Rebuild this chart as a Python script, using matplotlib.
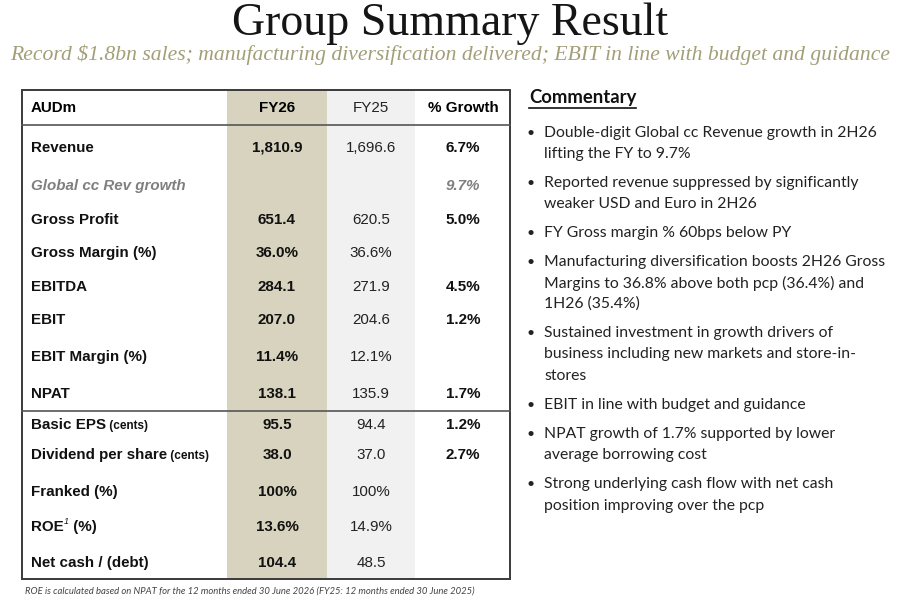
import matplotlib
matplotlib.use("Agg")
import matplotlib.pyplot as plt
from matplotlib.patches import Rectangle

title = "Group Summary Result"
subtitle = "Record $1.8bn sales; manufacturing diversification delivered; EBIT in line with budget and guidance"

headers = ["AUDm", "FY26", "FY25", "% Growth"]
row_labels = ["Revenue", "Global cc Rev growth", "Gross Profit", "Gross Margin (%)", "EBITDA", "EBIT",
              "EBIT Margin (%)", "NPAT", "Basic EPS", "Dividend per share", "Franked (%)", "ROE", "Net cash / (debt)"]
label_suffix = ["", "", "", "", "", "", "", "", " (cents)", " (cents)", "", "", ""]
fy26 = ["1,810.9", "", "651.4", "36.0%", "284.1", "207.0", "11.4%", "138.1", "95.5", "38.0", "100%", "13.6%", "104.4"]
fy25 = ["1,696.6", "", "620.5", "36.6%", "271.9", "204.6", "12.1%", "135.9", "94.4", "37.0", "100%", "14.9%", "48.5"]
growth = ["6.7%", "9.7%", "5.0%", "", "4.5%", "1.2%", "", "1.7%", "1.2%", "2.7%", "", "", ""]

commentary_title = "Commentary"
bullets = [
    ["Double-digit Global cc Revenue growth in 2H26", "lifting the FY to 9.7%"],
    ["Reported revenue suppressed by significantly", "weaker USD and Euro in 2H26"],
    ["FY Gross margin % 60bps below PY"],
    ["Manufacturing diversification boosts 2H26 Gross", "Margins to 36.8% above both pcp (36.4%) and", "1H26 (35.4%)"],
    ["Sustained investment in growth drivers of", "business including new markets and store-in-", "stores"],
    ["EBIT in line with budget and guidance"],
    ["NPAT growth of 1.7% supported by lower", "average borrowing cost"],
    ["Strong underlying cash flow with net cash", "position improving over the pcp"],
]
footnote = "ROE is calculated based on NPAT for the 12 months ended 30 June 2026 (FY25: 12 months ended 30 June 2025)"

W, H = 900, 598
fig = plt.figure(figsize=(W / 100, H / 100), dpi=100)
ax = fig.add_axes([0, 0, 1, 1])
ax.set_xlim(0, W)
ax.set_ylim(H, 0)
ax.axis("off")

# Title
ax.text(450, 24, title, ha="center", va="center", fontsize=33, family="Liberation Serif",
        color="#151515")
ax.text(450, 55, subtitle, ha="center", va="center", fontsize=15.6, family="Liberation Serif",
        style="italic", color="#a29f78")

# Table geometry
tl, tr, tt, tb = 22, 510, 90, 579
c26 = (227, 327)
c25 = (327, 415)
ax.add_patch(Rectangle((c26[0], tt), c26[1] - c26[0], tb - tt, facecolor="#d7d3be", edgecolor="none", zorder=1))
ax.add_patch(Rectangle((c25[0], tt), c25[1] - c25[0], tb - tt, facecolor="#f1f1f1", edgecolor="none", zorder=1))
ax.add_patch(Rectangle((tl, tt), tr - tl, tb - tt, facecolor="none", edgecolor="#3a3a3a", lw=1.4, zorder=3))
ax.plot([tl, tr], [125, 125], color="#555555", lw=1.2, zorder=3)
ax.plot([tl, tr], [411, 411], color="#555555", lw=1.2, zorder=3)

xl, x26, x25, xg = 31, 277, 371, 463
tf = "Liberation Sans"
fs = 10.9
hy = 108
ax.text(xl, hy, headers[0], ha="left", va="center", fontsize=fs, family=tf, fontweight="bold", zorder=4)
ax.text(x26, hy, headers[1], ha="center", va="center", fontsize=fs, family=tf, fontweight="bold", zorder=4)
ax.text(x25, hy, headers[2], ha="center", va="center", fontsize=fs, family=tf, color="#222222", zorder=4)
ax.text(xg, hy, headers[3], ha="center", va="center", fontsize=fs, family=tf, fontweight="bold", zorder=4)

row_y = [148, 186, 220, 253, 287, 320, 357, 394, 425, 455, 492, 527, 563]
fig.canvas.draw()
renderer = fig.canvas.get_renderer()
inv = ax.transData.inverted()
for i, y in enumerate(row_y):
    italic = i == 1
    col = "#7f7f7f" if italic else "#111111"
    t = ax.text(xl, y, row_labels[i], ha="left", va="center", fontsize=fs, family=tf, fontweight="bold",
                style="italic" if italic else "normal", color=col, zorder=4)
    if label_suffix[i] or row_labels[i] == "ROE":
        bb = t.get_window_extent(renderer)
        xe = inv.transform((bb.x1, bb.y0))[0]
        if row_labels[i] == "ROE":
            ax.text(xe + 0.5, y - 5, "1", ha="left", va="center", fontsize=6.5, family=tf,
                    style="italic", color=col, zorder=4)
            ax.text(xe + 5, y, " (%)", ha="left", va="center", fontsize=fs, family=tf,
                    fontweight="bold", color=col, zorder=4)
        else:
            ax.text(xe, y + 1, label_suffix[i], ha="left", va="center", fontsize=8.5, family=tf,
                    fontweight="bold", color=col, zorder=4)
    ax.text(x26, y, fy26[i], ha="center", va="center", fontsize=fs, family=tf, fontweight="bold", color="#111111", zorder=4)
    ax.text(x25, y, fy25[i], ha="center", va="center", fontsize=fs, family=tf, color="#222222", zorder=4)
    ax.text(xg, y, growth[i], ha="center", va="center", fontsize=fs, family=tf, fontweight="bold",
            style="italic" if italic else "normal", color=col, zorder=4)

ax.text(25, 591, footnote, ha="left", va="center", fontsize=6.8, family="Lato", style="italic", color="#444444")

# Commentary
ct = ax.text(529, 98, commentary_title, ha="left", va="center", fontsize=13.3, family="Lato",
             fontweight="bold", color="#111111")
fig.canvas.draw()
bb = ct.get_window_extent(renderer)
x0 = inv.transform((bb.x0, bb.y0))[0]
x1 = inv.transform((bb.x1, bb.y0))[0]
ax.plot([x0, x1], [108, 108], color="#111111", lw=1.2)

bullet_y = [[133, 154], [183, 204], [233], [262, 283, 304], [333, 354, 376], [405], [434, 455], [484, 506]]
for lines, ys in zip(bullets, bullet_y):
    ax.text(527, ys[0], "•", ha="left", va="center", fontsize=10, family="Lato", color="#222222")
    for ln, y in zip(lines, ys):
        ax.text(544, y, ln, ha="left", va="center", fontsize=11.3, family="Lato", color="#222222")

fig.savefig("out.png", dpi=100)
